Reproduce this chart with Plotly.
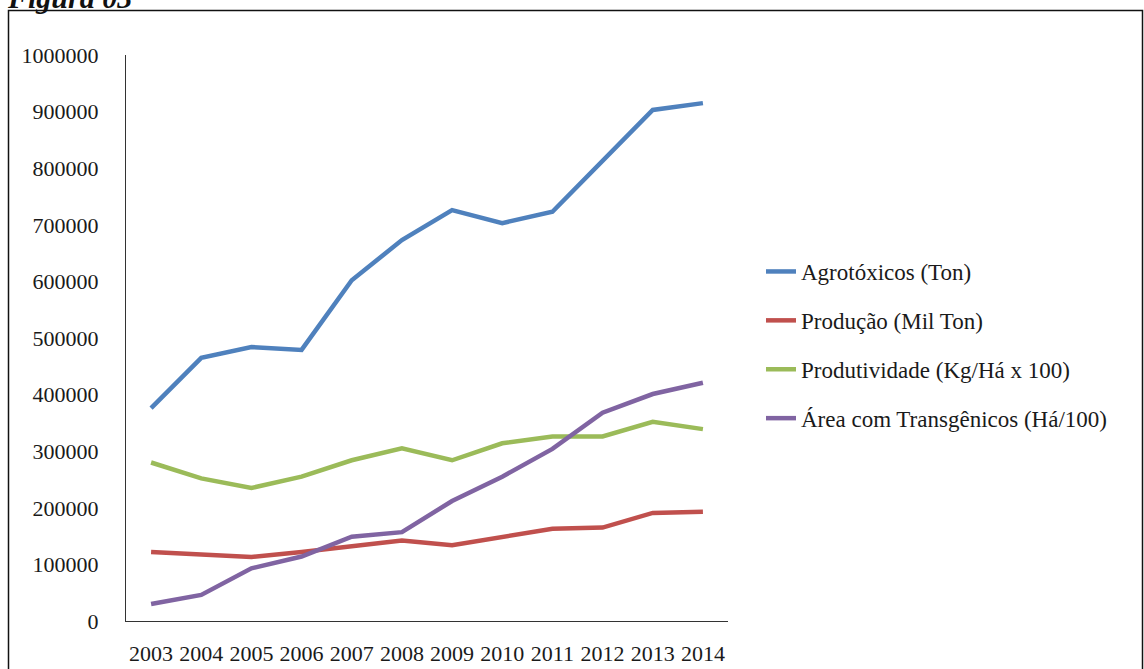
import plotly.graph_objects as go

years = ["2003", "2004", "2005", "2006", "2007", "2008", "2009", "2010", "2011", "2012", "2013", "2014"]
agrotoxicos = [376000, 465000, 484000, 479000, 602000, 673000, 726000, 703000, 723000, 814000, 903000, 915000]
producao = [122000, 118000, 113000, 122000, 131000, 142000, 134000, 149000, 163000, 165000, 191000, 193000]
produtividade = [280000, 252000, 235000, 255000, 284000, 305000, 284000, 314000, 326000, 326000, 352000, 339000]
area_transgenicos = [30000, 46000, 93000, 114000, 149000, 157000, 212000, 255000, 304000, 368000, 401000, 421000]

names = ["Agrotóxicos (Ton)", "Produção (Mil Ton)", "Produtividade (Kg/Há x 100)", "Área com Transgênicos (Há/100)"]
series = [agrotoxicos, producao, produtividade, area_transgenicos]
colors = ["#4F81BD", "#C0504D", "#9BBB59", "#8064A2"]
y_ticks = [0, 100000, 200000, 300000, 400000, 500000, 600000, 700000, 800000, 900000, 1000000]

W, H = 1144, 669
ML, MR, MT, MB = 126, 416, 55, 48
PW = W - ML - MR
PH = H - MT - MB

fig = go.Figure()
for i, (n, s, c) in enumerate(zip(names, series, colors)):
    fig.add_trace(go.Scatter(x=years, y=s, name=n, mode="lines",
                             line=dict(color=c, width=4.5), legendgroup=f"g{i}"))

def px_x(p):
    return (p - ML) / PW

def px_y(p):
    return (H - MB - p) / PH

fig.update_layout(
    width=W, height=H,
    margin=dict(l=ML, r=MR, t=MT, b=MB, autoexpand=False),
    paper_bgcolor="white", plot_bgcolor="white",
    font=dict(family="Liberation Serif", size=22, color="#1a1a1a"),
    showlegend=True,
    legend=dict(x=px_x(761), y=px_y(250), xanchor="left", yanchor="top",
                tracegroupgap=16, font=dict(size=23, color="#1a1a1a"),
                itemwidth=30, bgcolor="rgba(0,0,0,0)"),
    xaxis=dict(type="category", range=[-0.5, 11.5], showline=True, linecolor="#333",
               linewidth=1.2, showgrid=False, ticks="", tickfont=dict(size=22),
               zeroline=False, ticklabelstandoff=12, automargin=False),
    yaxis=dict(range=[0, 1000000], tickvals=y_ticks, ticktext=[str(v) for v in y_ticks],
               showline=True, linecolor="#333", linewidth=1.2, showgrid=False,
               ticks="", tickfont=dict(size=22), zeroline=False, ticklabelstandoff=22,
               automargin=False),
    shapes=[dict(type="rect", xref="paper", yref="paper",
                 x0=px_x(8.5), x1=px_x(1142.5), y0=px_y(680), y1=px_y(10.5),
                 line=dict(color="#111", width=1.5), fillcolor="rgba(0,0,0,0)", layer="below")],
    annotations=[dict(text="<b><i>Figura 03</i></b>", xref="paper", yref="paper",
                      x=px_x(5), y=px_y(16), xanchor="left", yanchor="bottom",
                      showarrow=False, font=dict(family="Liberation Serif", size=30, color="#111"))],
)

fig.write_html("out.html")
